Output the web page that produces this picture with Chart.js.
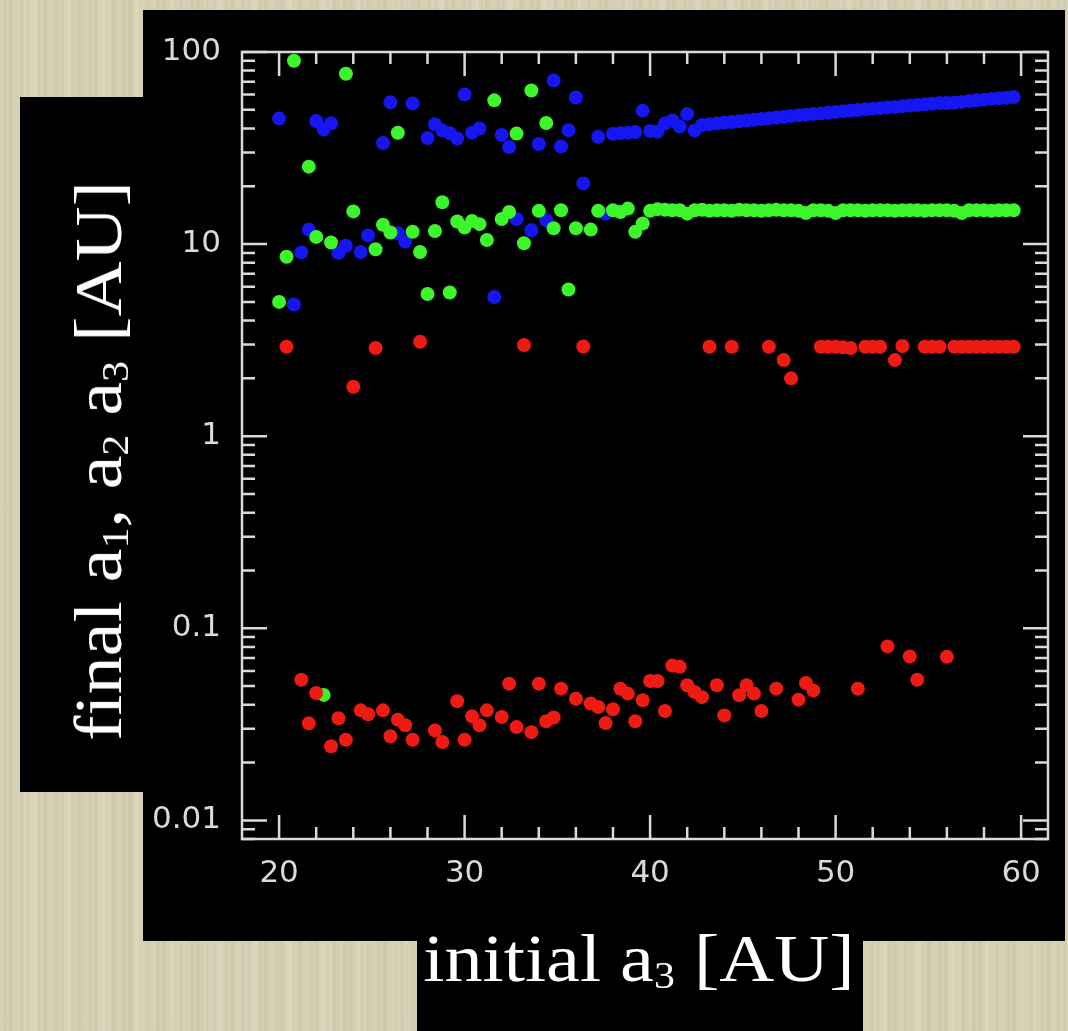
<!DOCTYPE html>
<html>
<head>
<meta charset="utf-8">
<title>final vs initial a3</title>
<script src="https://cdn.jsdelivr.net/npm/chart.js@4.4.1/dist/chart.umd.min.js"></script>
<style>
  html, body { margin: 0; padding: 0; }
  body {
    width: 1068px; height: 1031px; position: relative; overflow: hidden;
    background-color: #d8d3b6;
    background-image:
      repeating-linear-gradient(90deg, rgba(255,255,255,0.06) 0 3px, rgba(0,0,0,0.02) 3px 7px, rgba(255,255,255,0.03) 7px 9px, rgba(0,0,0,0.03) 9px 13px, rgba(255,255,255,0.02) 13px 17px),
      repeating-linear-gradient(90deg, rgba(0,0,0,0.02) 0 23px, rgba(255,255,255,0.03) 23px 37px);
  }
  .box { position: absolute; background: #000; }
  #chart { position: absolute; left: 0; top: 0; filter: blur(0.6px); }
  .label {
    position: absolute; color: #fff; white-space: nowrap;
    font-family: 'Liberation Serif', 'Times New Roman', serif;
    font-size: 68px; line-height: 68px;
  }
  .label sub { font-size: 0.55em; line-height: 0; vertical-align: -0.18em; }
  #ylabel { left: 98px; top: 461px; transform: translate(-50%, -50%) rotate(-90deg) scaleX(1.12); }
  #xlabel { left: 639px; top: 924px; transform: translateX(-50%) scaleX(1.12); }
</style>
</head>
<body>
<div class="box" style="left:20px; top:97px; width:123px; height:695px;"></div>
<div class="box" style="left:143px; top:10px; width:922px; height:931px;"></div>
<div class="box" style="left:417px; top:941px; width:446px; height:90px;"></div>
<canvas id="chart" width="1068" height="1031"></canvas>
<div class="label" id="ylabel">final a<sub>1</sub>, a<sub>2</sub> a<sub>3</sub> [AU]</div>
<div class="label" id="xlabel">initial a<sub>3</sub> [AU]</div>

<script>
// final semi-major axes of the three planets against the initial a3

// a1 (inner planet): stays near 3 AU or migrates in to ~0.05 AU
const a1X = [20.4, 21.2, 21.6, 22.0, 22.8, 23.2, 23.6, 24.0, 24.4, 24.8, 25.2, 25.6, 26.0, 26.4, 26.8,
  27.2, 27.6, 28.4, 28.8, 29.6, 30.0, 30.4, 30.8, 31.2, 32.0, 32.4, 32.8, 33.2, 33.6, 34.0, 34.4,
  34.8, 35.2, 36.0, 36.4, 36.8, 37.2, 37.6, 38.0, 38.4, 38.8, 39.2, 39.6, 40.0, 40.4, 40.8, 41.2,
  41.6, 42.0, 42.4, 42.8, 43.2, 43.6, 44.0, 44.4, 44.8, 45.2, 45.6, 46.0, 46.4, 46.8, 47.2, 47.6,
  48.0, 48.4, 48.8, 49.2, 49.6, 50.0, 50.4, 50.8, 51.2, 51.6, 52.0, 52.4, 52.8, 53.2, 53.6, 54.0,
  54.4, 54.8, 55.2, 55.6, 56.0, 56.4, 56.8, 57.2, 57.6, 58.0, 58.4, 58.8, 59.2, 59.6];
const a1Y = [2.92, 0.054, 0.032, 0.046, 0.0243, 0.034, 0.0263, 1.81, 0.0374, 0.0357, 2.88, 0.0374, 0.0274, 0.0334, 0.0313,
  0.0263, 3.1, 0.0294, 0.0256, 0.0417, 0.0263, 0.0348, 0.0313, 0.0374, 0.0345, 0.0515, 0.0306, 2.98, 0.0288, 0.0515, 0.0328,
  0.0343, 0.0485, 0.043, 2.93, 0.0406, 0.0389, 0.0321, 0.0379, 0.0485, 0.0457, 0.0328, 0.0422, 0.0532, 0.0532, 0.0371, 0.064,
  0.063, 0.0505, 0.0466, 0.0438, 2.92, 0.0505, 0.0352, 2.92, 0.0448, 0.0505, 0.0457, 0.0371, 2.92, 0.0485, 2.49, 2.0,
  0.0425, 0.0519, 0.0475, 2.92, 2.92, 2.92, 2.9, 2.88, 0.0485, 2.92, 2.92, 2.92, 0.0805, 2.49, 2.95, 0.0714,
  0.054, 2.92, 2.92, 2.92, 0.071, 2.92, 2.92, 2.92, 2.92, 2.92, 2.92, 2.92, 2.92, 2.92];

// a2 (middle planet)
const a2X = [20.0, 20.4, 20.8, 21.6, 22.0, 22.4, 22.8, 23.6, 24.0, 25.2, 25.6, 26.0, 26.4, 27.2, 27.6,
  28.0, 28.4, 28.8, 29.2, 29.6, 30.0, 30.4, 30.8, 31.2, 31.6, 32.0, 32.4, 32.8, 33.2, 33.6, 34.0,
  34.4, 34.8, 35.2, 35.6, 36.0, 36.8, 37.2, 38.0, 38.4, 38.8, 39.2, 39.6, 40.0, 40.4, 40.8, 41.2,
  41.6, 42.0, 42.4, 42.8, 43.2, 43.6, 44.0, 44.4, 44.8, 45.2, 45.6, 46.0, 46.4, 46.8, 47.2, 47.6,
  48.0, 48.4, 48.8, 49.2, 49.6, 50.0, 50.4, 50.8, 51.2, 51.6, 52.0, 52.4, 52.8, 53.2, 53.6, 54.0,
  54.4, 54.8, 55.2, 55.6, 56.0, 56.4, 56.8, 57.2, 57.6, 58.0, 58.4, 58.8, 59.2, 59.6];
const a2Y = [5.0, 8.6, 90, 25.3, 10.9, 0.045, 10.2, 77, 14.8, 9.4, 12.6, 11.5, 38, 11.6, 9.1,
  5.5, 11.7, 16.5, 5.6, 13.1, 12.2, 13.2, 12.7, 10.5, 56, 13.5, 14.7, 37.6, 10.1, 63, 14.9,
  42.7, 12.1, 15.0, 5.8, 12.1, 11.9, 14.9, 15.0, 14.7, 15.3, 11.6, 12.8, 14.9, 15.2, 15.1, 15.0,
  15.0, 14.4, 15.0, 15.1, 14.9, 15.0, 15.0, 14.9, 15.1, 15.0, 15.0, 14.9, 15.0, 15.1, 15.0, 15.0,
  14.9, 14.5, 15.0, 15.0, 14.9, 14.5, 15.0, 15.0, 15.0, 14.9, 15.0, 15.0, 15.0, 14.9, 15.0, 15.0,
  15.0, 14.9, 15.0, 15.0, 15.0, 14.9, 14.5, 15.0, 15.0, 15.0, 14.9, 15.0, 15.0, 15.0];

// a3 (outer planet)
const a3X = [20.0, 20.8, 21.2, 21.6, 22.0, 22.4, 22.8, 23.2, 23.6, 24.4, 24.8, 25.6, 26.0, 26.4, 26.8,
  27.2, 28.0, 28.4, 28.8, 29.2, 29.6, 30.0, 30.4, 30.8, 31.6, 32.0, 32.4, 32.8, 33.6, 34.0, 34.4,
  34.8, 35.2, 35.6, 36.0, 36.4, 37.2, 37.6, 38.0, 38.4, 38.8, 39.2, 39.6, 40.0, 40.4, 40.8, 41.2,
  41.6, 42.0, 42.4, 42.8, 43.2, 43.6, 44.0, 44.4, 44.8, 45.2, 45.6, 46.0, 46.4, 46.8, 47.2, 47.6,
  48.0, 48.4, 48.8, 49.2, 49.6, 50.0, 50.4, 50.8, 51.2, 51.6, 52.0, 52.4, 52.8, 53.2, 53.6, 54.0,
  54.4, 54.8, 55.2, 55.6, 56.0, 56.4, 56.8, 57.2, 57.6, 58.0, 58.4, 58.8, 59.2, 59.6];
const a3Y = [45, 4.85, 9.05, 11.9, 43.7, 39.5, 42.6, 9.0, 9.8, 9.1, 11.1, 33.6, 54.7, 11.4, 10.3,
  54, 35.7, 42, 39, 37.8, 35.5, 60, 38, 40, 5.3, 37, 32, 13.5, 11.8, 33.2, 13.3,
  71, 32.2, 39.2, 58, 20.7, 36.2, 14.4, 37.5, 37.8, 38, 38.3, 49.5, 38.8, 38.5, 42.4, 44,
  41, 47.5, 39, 41.7, 42.1, 42.5, 42.9, 43.2, 43.6, 44.0, 44.4, 44.8, 45.2, 45.6, 46.0, 46.4,
  46.8, 47.2, 47.5, 47.9, 48.3, 48.7, 49.1, 49.5, 49.9, 50.3, 50.6, 51.0, 51.4, 51.8, 52.2, 52.6,
  53.0, 53.4, 53.8, 54.2, 54.3, 54.4, 55.0, 55.6, 56.1, 56.5, 57.0, 57.4, 57.8, 58.3];

const xTicks = [20, 30, 40, 50, 60];
const yTicks = [0.01, 0.1, 1, 10, 100];
const yTickLabels = ['0.01', '0.1', '1', '10', '100'];

const X_MIN = 18, X_MAX = 61.45;
const Y_MIN = 0.008, Y_MAX = 100;
const AXIS_COLOR = '#dadada';
const COLORS = { a1: '#ee1a14', a2: '#3cf52a', a3: '#1616f2' };

const toPoints = (xs, ys) => xs.map((x, i) => ({ x, y: ys[i] }));

// box frame with inward ticks on all four sides, like a PGPLOT box
const frame = {
  id: 'frame',
  afterDraw(chart) {
    const { ctx, chartArea: a, scales: { x, y } } = chart;
    ctx.save();
    ctx.strokeStyle = AXIS_COLOR;
    ctx.lineWidth = 2.5;
    ctx.lineCap = 'butt';
    ctx.strokeRect(a.left, a.top, a.right - a.left, a.bottom - a.top);

    ctx.beginPath();
    for (let v = 20; v <= X_MAX; v += 2) {
      const px = x.getPixelForValue(v);
      const len = v % 10 === 0 ? 24 : 12;
      ctx.moveTo(px, a.bottom); ctx.lineTo(px, a.bottom - len);
      ctx.moveTo(px, a.top); ctx.lineTo(px, a.top + len);
    }
    for (const d of [0.001, 0.01, 0.1, 1, 10]) {
      for (let m = 1; m <= 10; m++) {
        const v = d * m;
        if (v < Y_MIN * 0.999 || v > Y_MAX * 1.001) continue;
        const py = y.getPixelForValue(v);
        const len = m === 1 || m === 10 ? 25 : 13;
        ctx.moveTo(a.left, py); ctx.lineTo(a.left + len, py);
        ctx.moveTo(a.right, py); ctx.lineTo(a.right - len, py);
      }
    }
    ctx.stroke();
    ctx.restore();
  }
};

document.addEventListener('DOMContentLoaded', () => {
  const ctx = document.getElementById('chart').getContext('2d');

  const makeSet = (label, xs, ys, color) => ({
    label,
    data: toPoints(xs, ys),
    backgroundColor: color,
    borderWidth: 0,
    pointRadius: 7,
    pointHoverRadius: 7,
    pointStyle: 'circle'
  });

  new Chart(ctx, {
    type: 'scatter',
    data: {
      // drawing order: a1 first, a3 on top
      datasets: [
        makeSet('a1', a1X, a1Y, COLORS.a1),
        makeSet('a2', a2X, a2Y, COLORS.a2),
        makeSet('a3', a3X, a3Y, COLORS.a3)
      ]
    },
    plugins: [frame],
    options: {
      responsive: false,
      animation: false,
      events: [],
      layout: { padding: { left: 143, top: 52, right: 20, bottom: 122 } },
      plugins: {
        legend: { display: false },
        tooltip: { enabled: false }
      },
      scales: {
        x: {
          type: 'linear',
          min: X_MIN,
          max: X_MAX,
          grid: { display: false, drawTicks: false },
          border: { display: false },
          afterBuildTicks: s => { s.ticks = xTicks.map(value => ({ value })); },
          afterFit: s => { s.height = 70; },
          ticks: {
            padding: 16,
            color: AXIS_COLOR,
            font: { family: 'DejaVu Sans', size: 31 },
            maxRotation: 0,
            autoSkip: false
          }
        },
        y: {
          type: 'logarithmic',
          min: Y_MIN,
          max: Y_MAX,
          grid: { display: false, drawTicks: false },
          border: { display: false },
          afterBuildTicks: s => { s.ticks = yTicks.map(value => ({ value, major: true })); },
          afterFit: s => { s.width = 99; },
          ticks: {
            padding: 21,
            color: AXIS_COLOR,
            font: { family: 'DejaVu Sans', size: 31 },
            autoSkip: false,
            callback: (v, i) => yTickLabels[i]
          }
        }
      }
    }
  });
});
</script>
</body>
</html>
